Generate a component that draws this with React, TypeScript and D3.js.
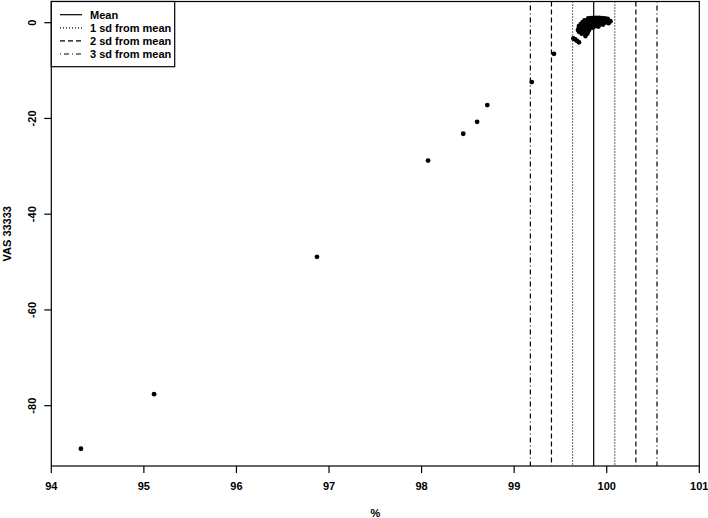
import React from "react";
import * as d3 from "d3";

// Outlying observations
const pctValues = [94.32, 95.11, 96.87, 98.07, 98.45, 98.6, 98.71, 99.19, 99.43, 99.64, 99.66, 99.68, 99.7];
const vasValues = [-89.0, -77.6, -48.9, -28.8, -23.2, -20.7, -17.2, -12.4, -6.5, -3.3, -3.5, -3.8, -4.1];

// Dense cluster near 100%
const clusterPct = [
  99.8, 99.83, 99.86, 99.89, 99.92, 99.95, 99.98, 100.01,
  99.76, 99.79, 99.82, 99.85, 99.88, 99.91, 99.94, 99.97, 100.0, 100.04,
  99.74, 99.77, 99.8, 99.83, 99.86, 99.89, 99.92, 99.95, 99.98, 100.02,
  99.72, 99.75, 99.78, 99.81, 99.84, 99.87, 99.9, 99.93, 99.96,
  99.7, 99.73, 99.76, 99.79, 99.82, 99.85, 99.88, 99.91,
  99.7, 99.73, 99.76, 99.79, 99.82, 99.85,
  99.69, 99.72, 99.75, 99.78, 99.81,
  99.7, 99.74, 99.77, 99.8,
  99.73, 99.79,
  99.77,
];
const clusterVas = [
  0.9, 0.95, 1.0, 1.0, 1.0, 0.95, 0.9, 0.8,
  0.5, 0.5, 0.5, 0.5, 0.5, 0.5, 0.5, 0.5, 0.4, 0.3,
  0.1, 0.1, 0.1, 0.1, 0.1, 0.1, 0.1, 0.1, 0.0, -0.1,
  -0.3, -0.3, -0.3, -0.3, -0.3, -0.3, -0.3, -0.3, -0.4,
  -0.7, -0.7, -0.7, -0.7, -0.7, -0.7, -0.7, -0.8,
  -1.1, -1.1, -1.1, -1.1, -1.1, -1.0,
  -1.5, -1.5, -1.5, -1.5, -1.4,
  -1.9, -1.9, -1.9, -1.8,
  -2.3, -2.3,
  -2.8,
];

const meanValue = 99.859;
const sdValue = 0.228;

const xTicks = [94, 95, 96, 97, 98, 99, 100, 101];
const yTicks = [0, -20, -40, -60, -80];

const legendLabels = ["Mean", "1 sd from mean", "2 sd from mean", "3 sd from mean"];
const legendDash = ["none", "1,2", "5,3", "1,3,5,3"];

const W = 708;
const H = 518;
const left = 51.3;
const right = 699.3;
const top = 1.5;
const bottom = 466;

export default function App() {
  const x = d3.scaleLinear().domain([94, 101]).range([left, right]);
  const y = d3.scaleLinear().domain([-92.6, 4.43]).range([bottom, top]);
  const font = "'Liberation Sans', Arial, sans-serif";

  const sdLines = [
    { v: meanValue, dash: legendDash[0] },
    { v: meanValue - sdValue, dash: legendDash[1] },
    { v: meanValue + sdValue, dash: legendDash[1] },
    { v: meanValue - 2 * sdValue, dash: legendDash[2] },
    { v: meanValue + 2 * sdValue, dash: legendDash[2] },
    { v: meanValue - 3 * sdValue, dash: legendDash[3] },
    { v: meanValue + 3 * sdValue, dash: legendDash[3] },
  ];

  const allX = [...pctValues, ...clusterPct];
  const allY = [...vasValues, ...clusterVas];

  return (
    <svg width={W} height={H} style={{ position: "absolute", left: 0, top: 0, background: "#fff" }}>
      <rect x={0} y={0} width={W} height={H} fill="#fff" />
      {sdLines.map((l, i) => (
        <line
          key={i}
          x1={x(l.v)}
          x2={x(l.v)}
          y1={top}
          y2={bottom}
          stroke="#000"
          strokeWidth={1.2}
          strokeDasharray={l.dash}
        />
      ))}
      {allX.map((v, i) => (
        <circle key={i} cx={x(v)} cy={y(allY[i])} r={2.4} fill="#000" />
      ))}
      <rect x={left} y={top} width={right - left} height={bottom - top} fill="none" stroke="#000" strokeWidth={1.2} />
      {xTicks.map((t) => (
        <g key={t}>
          <line x1={x(t)} x2={x(t)} y1={bottom} y2={bottom + 7} stroke="#000" strokeWidth={1.2} />
          <text x={x(t)} y={490} textAnchor="middle" fontFamily={font} fontSize={11} fontWeight="bold">
            {t}
          </text>
        </g>
      ))}
      {yTicks.map((t) => (
        <g key={t}>
          <line x1={left - 7} x2={left} y1={y(t)} y2={y(t)} stroke="#000" strokeWidth={1.2} />
          <text
            transform={`translate(${36},${y(t)}) rotate(-90)`}
            textAnchor="middle"
            fontFamily={font}
            fontSize={11}
            fontWeight="bold"
          >
            {t}
          </text>
        </g>
      ))}
      <text x={(left + right) / 2} y={517} textAnchor="middle" fontFamily={font} fontSize={11} fontWeight="bold">
        %
      </text>
      <text
        transform={`translate(${11},${(top + bottom) / 2}) rotate(-90)`}
        textAnchor="middle"
        fontFamily={font}
        fontSize={11}
        fontWeight="bold"
      >
        VAS 33333
      </text>
      <g>
        <rect x={left} y={top} width={174.7 - left} height={66.7 - top} fill="#fff" stroke="#000" strokeWidth={1.2} />
        {legendLabels.map((lab, i) => {
          const ly = 14.7 + i * 13.1;
          return (
            <g key={lab}>
              <line x1={60} x2={82} y1={ly} y2={ly} stroke="#000" strokeWidth={1.2} strokeDasharray={legendDash[i]} />
              <text x={90} y={ly + 4} fontFamily={font} fontSize={11} fontWeight="bold">
                {lab}
              </text>
            </g>
          );
        })}
      </g>
    </svg>
  );
}
